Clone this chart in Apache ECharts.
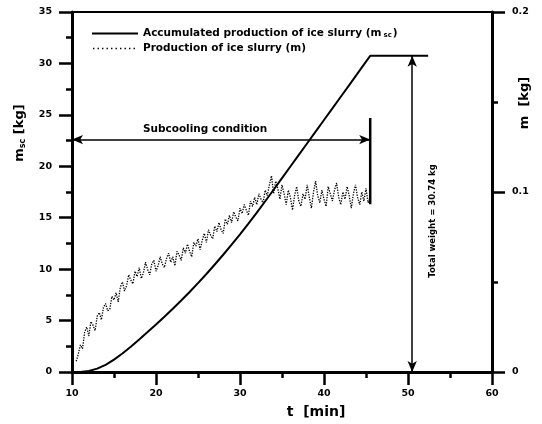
<!DOCTYPE html>
<html><head><meta charset="utf-8">
<script src="https://cdn.jsdelivr.net/npm/echarts@6/dist/echarts.min.js"></script>
<style>html,body{margin:0;padding:0;background:#fff}#c{width:542px;height:424px}</style>
</head><body><div id="c"></div>
<script>
// Accumulated production of ice slurry m_sc [kg] (left axis)
const accTime  = [11, 12, 13, 14, 15, 16, 17, 18, 19, 20, 21, 22, 23, 24, 25, 26, 27, 28, 29, 30,
                  31, 32, 33, 34, 35, 36, 37, 38, 39, 40, 41, 42, 43, 44, 45, 45.5, 52.4];
const accValue = [0, 0.1, 0.33, 0.7, 1.2, 1.8, 2.45, 3.15, 3.88, 4.62, 5.38, 6.15, 6.95, 7.78, 8.64, 9.53, 10.45, 11.4, 12.38, 13.39,
                  14.43, 15.5, 16.6, 17.72, 18.85, 19.98, 21.11, 22.24, 23.37, 24.5, 25.63, 26.76, 27.89, 29.03, 30.17, 30.74, 30.74];
// Production of ice slurry m [kg] (right axis), sampled every 0.25 min from 10.5 min
const prodStart = 10.5, prodStep = 0.25;
const prodValue = [
 0.006,0.010,
 0.015,0.013,0.022,0.025, 0.020,0.028,0.026,0.023, 0.031,0.033,0.029,0.036, 0.038,0.034,0.035,0.042,
 0.040,0.044,0.039,0.047, 0.050,0.045,0.048,0.054, 0.051,0.049,0.056,0.053, 0.058,0.052,0.055,0.061,
 0.057,0.054,0.060,0.062, 0.056,0.059,0.064,0.060, 0.058,0.063,0.066,0.061, 0.064,0.059,0.067,0.065,
 0.062,0.069,0.066,0.071, 0.067,0.064,0.072,0.070, 0.074,0.068,0.073,0.077, 0.072,0.079,0.076,0.074,
 0.081,0.078,0.083,0.079, 0.077,0.085,0.082,0.087, 0.083,0.089,0.086,0.084, 0.091,0.088,0.093,0.090,
 0.087,0.095,0.092,0.097, 0.093,0.099,0.096,0.094, 0.101,0.098,0.104,0.109, 0.099,0.106,0.102,0.096,
 0.104,0.099,0.093,0.101, 0.097,0.090,0.098,0.103, 0.095,0.092,0.099,0.096, 0.104,0.097,0.091,0.100,
 0.106,0.098,0.094,0.101, 0.096,0.092,0.103,0.099, 0.095,0.101,0.105,0.097, 0.093,0.100,0.096,0.103,
 0.098,0.091,0.099,0.104, 0.097,0.093,0.100,0.095, 0.102,0.094,0.097];
// annotations (data coordinates)
const subcoolFrom = 10, subcoolTo = 45.5, subcoolLevel = 22.6;
const totalWeight = 30.74, totalArrowT = 50.5;
const endBarTime = 45.5, endBarTop = 24.7, endBarBottom = 16.3;
const xRange = [10, 60], xStep = 10;
const yLeftRange = [0, 35], yLeftStep = 5;
const yRightRange = [0, 0.2], yRightStep = 0.1;

const FONT = '"DejaVu Sans", Verdana, sans-serif';
const accData = accTime.map((t, i) => [t, accValue[i]]);
const prodData = prodValue.map((v, i) => [prodStart + i * prodStep, v]);

// legend icons (line samples); tiny corner squares fix the icon box at 46x10
const box = 'M0,0h0.1v0.1h-0.1Z M45.9,9.9h0.1v0.1h-0.1Z ';
const solidIcon = 'path://' + box + 'M0,4.1h46v1.9h-46Z';
let dots = '';
for (let x = 1; x < 46; x += 4.5) dots += 'M' + x + ',4.3h1.4v1.4h-1.4Z ';
const dottedIcon = 'path://' + box + dots;

const axisCommon = {
  axisLine: {show: true, lineStyle: {color: '#000', width: 3}},
  axisTick: {show: true, length: 13, lineStyle: {color: '#000', width: 2.5}},
  minorTick: {show: true, splitNumber: 2, length: 6, lineStyle: {color: '#000', width: 2.5}},
  splitLine: {show: false},
  axisLabel: {color: '#000', fontFamily: FONT, fontWeight: 'bold', fontSize: 9.5}
};

const chart = echarts.init(document.getElementById('c'), null, {renderer: 'canvas'});
chart.setOption({
  animation: false,
  backgroundColor: '#fff',
  grid: {left: 72, right: 50, top: 12, bottom: 52, show: true, borderColor: '#000', borderWidth: 2},
  legend: {
    orient: 'vertical', left: 87, top: 23, itemWidth: 46, itemHeight: 10, itemGap: 4,
    data: [{name: 'Accumulated production of ice slurry (m_sc)', icon: solidIcon},
           {name: 'Production of ice slurry (m)', icon: dottedIcon}],
    itemStyle: {color: '#000', borderWidth: 0},
    formatter: n => n.indexOf('m_sc') >= 0
      ? '{n|Accumulated production of ice slurry (m}{s|sc}{n|)}' : '{n|' + n + '}',
    textStyle: {
      color: '#000', fontFamily: FONT, fontWeight: 'bold', fontSize: 10.5,
      rich: {n: {fontFamily: FONT, fontWeight: 'bold', fontSize: 10.5, color: '#000'},
             s: {fontFamily: FONT, fontWeight: 'bold', fontSize: 7, color: '#000', verticalAlign: 'bottom', padding: [4, 1, 0, 2]}}
    }
  },
  xAxis: Object.assign({type: 'value', min: xRange[0], max: xRange[1], interval: xStep}, axisCommon,
    {axisLabel: Object.assign({}, axisCommon.axisLabel, {margin: 17})}),
  yAxis: [
    Object.assign({type: 'value', position: 'left', min: yLeftRange[0], max: yLeftRange[1], interval: yLeftStep}, axisCommon,
      {axisLabel: Object.assign({}, axisCommon.axisLabel, {margin: 20})}),
    Object.assign({type: 'value', position: 'right', min: yRightRange[0], max: yRightRange[1], interval: yRightStep}, axisCommon,
      {axisLabel: Object.assign({}, axisCommon.axisLabel, {margin: 20, formatter: v => v === 0 ? '0' : String(+v.toFixed(2))})})
  ],
  series: [
    {
      name: 'Accumulated production of ice slurry (m_sc)', type: 'line', yAxisIndex: 0,
      data: accData, symbol: 'none', lineStyle: {color: '#000', width: 2}, itemStyle: {color: '#000'},
      markLine: {
        silent: true, symbol: ['arrow', 'arrow'], symbolSize: [7, 11],
        lineStyle: {color: '#000', width: 1.5, type: 'solid'},
        label: {show: false},
        data: [
          [{coord: [subcoolFrom, subcoolLevel],
            label: {show: true, position: 'insideMiddleTop', formatter: 'Subcooling condition', distance: 5,
                    color: '#000', fontFamily: FONT, fontWeight: 'bold', fontSize: 10.5, offset: [-16, 0]}},
           {coord: [subcoolTo, subcoolLevel]}],
          [{coord: [totalArrowT, 0]}, {coord: [totalArrowT, totalWeight]}]
        ]
      }
    },
    {
      name: 'Production of ice slurry (m)', type: 'line', yAxisIndex: 1,
      data: prodData, symbol: 'none', lineStyle: {color: '#000', width: 1.3, type: 'dotted'}, itemStyle: {color: '#000'}
    },
    {
      name: 'end', type: 'line', yAxisIndex: 0,
      data: [[endBarTime, endBarTop], [endBarTime, endBarBottom]],
      symbol: 'none', lineStyle: {color: '#000', width: 2.5}
    }
  ]
});

const p = chart.convertToPixel({xAxisIndex: 0, yAxisIndex: 0}, [totalArrowT, totalWeight / 2]);
chart.setOption({
  graphic: [
    {type: 'text', x: p[0] + 21, y: p[1] + 7, rotation: Math.PI / 2,
     style: {text: 'Total weight = 30.74 kg', fill: '#000', font: 'bold 8.5px ' + FONT, align: 'center', verticalAlign: 'middle'}},
    {type: 'text', x: 316, y: 412,
     style: {text: 't  [min]', fill: '#000', font: 'bold 14px ' + FONT, align: 'center', verticalAlign: 'middle'}},
    {type: 'text', x: 20, y: 133, rotation: Math.PI / 2,
     style: {text: '{m|m}{s|sc}{m| [kg]}', align: 'center', verticalAlign: 'middle',
             rich: {m: {font: 'bold 13px ' + FONT, fill: '#000'},
                    s: {font: 'bold 8px ' + FONT, fill: '#000', verticalAlign: 'bottom', padding: [6, 0, 0, 0]}}}},
    {type: 'text', x: 525, y: 103, rotation: Math.PI / 2,
     style: {text: 'm  [kg]', fill: '#000', font: 'bold 13px ' + FONT, align: 'center', verticalAlign: 'middle'}}
  ]
});
</script></body></html>
